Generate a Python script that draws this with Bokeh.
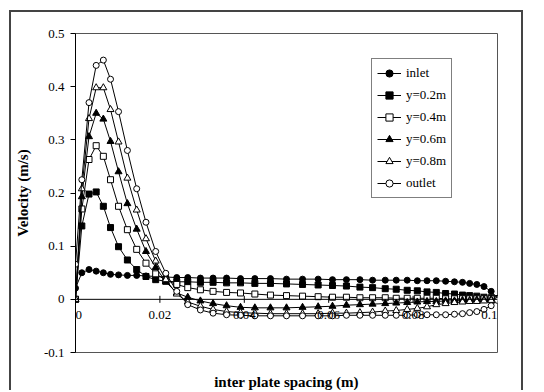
import math
from bokeh.plotting import figure
from bokeh.models import (Range1d, FixedTicker, Legend, LegendItem, LabelSet,
                          ColumnDataSource, Span)
from bokeh.embed import file_html
from bokeh.resources import INLINE

# ---------------- data ----------------
X = [0, 0.0015, 0.0032, 0.0049, 0.0066, 0.0083, 0.0102, 0.0123, 0.0145, 0.0167,
     0.019, 0.0214, 0.024, 0.0266, 0.0296, 0.0326, 0.0358, 0.0391, 0.0425, 0.0462,
     0.05, 0.0538, 0.0575, 0.0609, 0.0642, 0.0674, 0.0704, 0.0734, 0.076, 0.0786,
     0.081, 0.0833, 0.0855, 0.0877, 0.0898, 0.0917, 0.0934, 0.0951, 0.0968, 0.0985, 0.1]

INLET = [0.021, 0.050, 0.056, 0.053, 0.050, 0.047, 0.046, 0.045, 0.045, 0.044,
         0.043, 0.042, 0.041, 0.041, 0.040, 0.040, 0.040, 0.039, 0.039, 0.039,
         0.038, 0.038, 0.038, 0.037, 0.037, 0.037, 0.036, 0.036, 0.036, 0.036,
         0.035, 0.035, 0.035, 0.034, 0.033, 0.032, 0.030, 0.028, 0.024, 0.015, 0.002]

Y02 = [0.0, 0.138, 0.198, 0.202, 0.175, 0.135, 0.099, 0.074, 0.056, 0.043,
       0.037, 0.034, 0.033, 0.033, 0.032, 0.032, 0.031, 0.031, 0.030, 0.030,
       0.029, 0.028, 0.027, 0.026, 0.025, 0.023, 0.022, 0.020, 0.019, 0.017,
       0.016, 0.014, 0.013, 0.011, 0.010, 0.008, 0.007, 0.006, 0.004, 0.003, 0.001]

Y04 = [0.0, 0.170, 0.263, 0.289, 0.269, 0.225, 0.175, 0.131, 0.094, 0.068,
       0.048, 0.036, 0.028, 0.022, 0.018, 0.015, 0.013, 0.012, 0.010, 0.008,
       0.007, 0.006, 0.005, 0.004, 0.004, 0.003, 0.003, 0.003, 0.002, 0.002,
       0.002, 0.002, 0.002, 0.001, 0.001, 0.001, 0.001, 0.001, 0.001, 0.001, 0.0]

Y06 = [0.0, 0.193, 0.306, 0.350, 0.339, 0.297, 0.240, 0.180, 0.132, 0.090,
       0.060, 0.033, 0.012, 0.004, -0.003, -0.008, -0.012, -0.015, -0.016, -0.016,
       -0.016, -0.015, -0.014, -0.013, -0.011, -0.010, -0.009, -0.008, -0.007, -0.006,
       -0.005, -0.004, -0.004, -0.003, -0.003, -0.002, -0.002, -0.001, -0.001, 0.0, 0.0]

Y08 = [0.0, 0.208, 0.340, 0.398, 0.398, 0.357, 0.296, 0.228, 0.168, 0.114,
       0.072, 0.037, 0.010, -0.005, -0.013, -0.019, -0.023, -0.025, -0.026, -0.027,
       -0.027, -0.027, -0.027, -0.026, -0.026, -0.025, -0.024, -0.022, -0.021, -0.019,
       -0.017, -0.014, -0.010, -0.008, -0.006, -0.005, -0.004, -0.004, -0.003, -0.002, 0.0]

OUTLET = [0.066, 0.225, 0.370, 0.440, 0.450, 0.414, 0.353, 0.280, 0.208, 0.145,
          0.090, 0.049, 0.015, -0.010, -0.020, -0.026, -0.029, -0.030, -0.031, -0.031,
          -0.031, -0.031, -0.031, -0.031, -0.030, -0.030, -0.030, -0.030, -0.030, -0.030,
          -0.029, -0.029, -0.029, -0.029, -0.028, -0.027, -0.025, -0.023, -0.019, -0.012, -0.002]

NAMES = ["inlet", "y=0.2m", "y=0.4m", "y=0.6m", "y=0.8m", "outlet"]
SERIES = [INLET, Y02, Y04, Y06, Y08, OUTLET]

X_TICKS = [0, 0.02, 0.04, 0.06, 0.08, 0.1]
X_LABELS = ["0", "0.02", "0.04", "0.06", "0.08", "0.1"]
Y_TICKS = [-0.1, 0, 0.1, 0.2, 0.3, 0.4, 0.5]
Y_LABELS = ["-0.1", "0", "0.1", "0.2", "0.3", "0.4", "0.5"]

X_TITLE = "inter plate spacing (m)"
Y_TITLE = "Velocity (m/s)"

# ---------------- styles ----------------
FONT = "Liberation Serif"
MARKERS = [("circle", "black", 6), ("square", "black", 6), ("square", "white", 6),
           ("triangle", "black", 7), ("triangle", "white", 7), ("circle", "white", 6)]

p = figure(width=514, height=380, output_backend="svg", toolbar_location=None,
           x_range=Range1d(0, 0.1), y_range=Range1d(-0.1, 0.5),
           min_border_left=64, min_border_right=28, min_border_top=21,
           min_border_bottom=38)
p.title.visible = False
p.grid.visible = False
p.outline_line_color = "#555555"
p.outline_line_width = 1
p.background_fill_color = "white"
p.border_fill_color = "white"
p.styles = {"margin-left": "9px", "margin-top": "10px",
            "border-style": "solid", "border-color": "#444444",
            "border-width": "2px 2px 0px 2px"}

# bottom axis only carries the title; the x axis itself is drawn at y = 0
xa = p.xaxis[0]
xa.ticker = FixedTicker(ticks=[])
xa.axis_line_color = None
xa.major_tick_out = 0
xa.major_tick_in = 0
xa.minor_tick_line_color = None
xa.major_label_standoff = 0
xa.axis_label = X_TITLE
xa.axis_label_standoff = 21
xa.axis_label_text_font = FONT
xa.axis_label_text_font_size = "15px"
xa.axis_label_text_font_style = "bold"
xa.axis_label_text_color = "black"

p.add_layout(Span(location=0, dimension="width", line_color="black", line_width=1))
p.scatter(X_TICKS, [0] * len(X_TICKS), marker="dash", angle=math.pi / 2, size=7,
          line_color="black", line_width=1)

# tick labels under the zero line; the two end labels are aligned inwards
groups = [(X_TICKS[:1], X_LABELS[:1], "left"),
          (X_TICKS[1:-1], X_LABELS[1:-1], "center"),
          (X_TICKS[-1:], X_LABELS[-1:], "right")]
for xs, ts, al in groups:
    p.add_layout(LabelSet(source=ColumnDataSource(dict(x=xs, y=[0] * len(xs), t=ts)),
                          x="x", y="y", text="t", y_offset=-12, text_align=al,
                          text_baseline="top", text_font=FONT, text_font_size="13px",
                          text_color="black"))

ya = p.yaxis[0]
ya.ticker = FixedTicker(ticks=Y_TICKS)
ya.major_label_overrides = {t: l for t, l in zip(Y_TICKS, Y_LABELS)}
ya.minor_tick_line_color = None
ya.major_tick_out = 5
ya.major_tick_in = 0
ya.major_label_standoff = 6
ya.axis_line_color = "black"
ya.major_tick_line_color = "black"
ya.major_label_text_font = FONT
ya.major_label_text_font_size = "13px"
ya.major_label_text_color = "black"
ya.axis_label = Y_TITLE
ya.axis_label_text_font = FONT
ya.axis_label_text_font_size = "15px"
ya.axis_label_text_font_style = "bold"
ya.axis_label_text_color = "black"
ya.axis_label_standoff = 10

items = []
for name, ys, (mk, fill, sz) in zip(NAMES, SERIES, MARKERS):
    ln = p.line(X, ys, line_color="black", line_width=1)
    sc = p.scatter(X, ys, marker=mk, size=sz, line_color="black",
                   fill_color=fill, line_width=1)
    items.append(LegendItem(label=name, renderers=[ln, sc]))

legend = Legend(items=items, location=(296, 154), margin=0, padding=5,
                spacing=4, label_height=18, glyph_height=18, glyph_width=24,
                label_standoff=5, border_line_color="black", border_line_width=1,
                background_fill_color="white", background_fill_alpha=1.0,
                label_text_font=FONT, label_text_font_size="13px",
                label_text_color="black")
p.add_layout(legend)

open("out.html", "w").write(file_html(p, INLINE))
